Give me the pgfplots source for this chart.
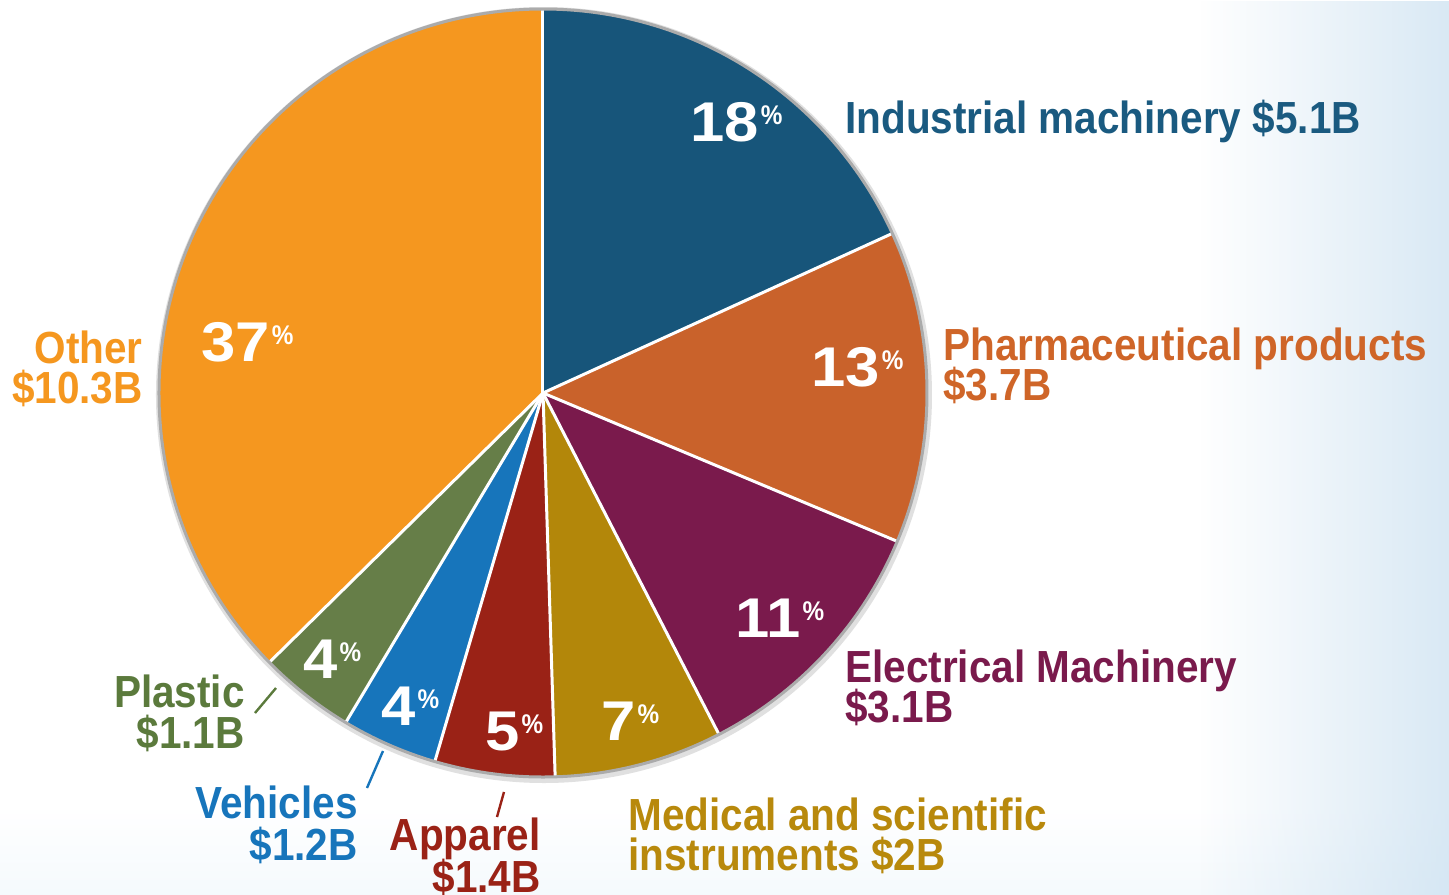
\documentclass[border=0pt]{standalone}
\usepackage{pgfplots}
\pgfplotsset{compat=1.18}
\usepackage{pgfplotstable}
\usetikzlibrary{fadings}
\usepackage{fontspec}
\setmainfont{Liberation Sans}
\newfontfamily\lblfont{Liberation Sans}[FakeStretch=0.9]
\newfontfamily\pctfont{Liberation Sans}[FakeStretch=1.1]
\newcommand\lbl{\lblfont\bfseries\fontsize{22.5bp}{24bp}\selectfont}
\newcommand\pct[1]{{\pctfont\bfseries\fontsize{28bp}{30bp}\selectfont #1}\hspace{1bp}\raisebox{8.5bp}{\lblfont\bfseries\fontsize{13.5bp}{14bp}\selectfont\%}}

\definecolor{cInd}{HTML}{17557A}
\definecolor{cPha}{HTML}{C9622B}
\definecolor{cEle}{HTML}{7A1A4C}
\definecolor{cMed}{HTML}{B3870A}
\definecolor{cApp}{HTML}{9A2216}
\definecolor{cVeh}{HTML}{1775BB}
\definecolor{cPla}{HTML}{667E48}
\definecolor{cOth}{HTML}{F5971F}
\definecolor{tInd}{HTML}{1A5A80}
\definecolor{tPha}{HTML}{CF6528}
\definecolor{tEle}{HTML}{7A1A4C}
\definecolor{tMed}{HTML}{B8890C}
\definecolor{tApp}{HTML}{9A2216}
\definecolor{tVeh}{HTML}{1775BB}
\definecolor{tPla}{HTML}{5B7A3C}
\definecolor{tOth}{HTML}{F5971F}
\definecolor{bgA}{HTML}{A5CBE4}
\definecolor{bgB}{HTML}{DCECF7}
\definecolor{bgR}{HTML}{C5DDEF}

\pgfdeclareverticalshading{bgv}{100bp}{color(0bp)=(bgA); color(13bp)=(bgB); color(30bp)=(white); color(100bp)=(white)}
\pgfdeclareradialshading{rimshade}{\pgfpointorigin}{color(0bp)=(pgftransparent!100); color(36bp)=(pgftransparent!100); color(50bp)=(pgftransparent!58)}
\pgfdeclarefading{rimfade}{\pgfuseshading{rimshade}}
\tikzfading[name=fadeR, left color=transparent!100, right color=transparent!35]

% share of each category (percent) and value ($B), clockwise from 12 o'clock
\pgfplotstableread{
pct amount
18 5.1
13 3.7
11 3.1
7 2
5 1.4
4 1.2
4 1.1
37 10.3
}\piedata

\def\total{0}%
\pgfplotsforeachungrouped \i in {0,...,7}{%
  \pgfplotstablegetelem{\i}{pct}\of\piedata
  \pgfmathsetmacro\total{\total+\pgfplotsretval}}%
\def\cumul{0}%
\pgfplotsforeachungrouped \i in {0,...,7}{%
  \pgfplotstablegetelem{\i}{pct}\of\piedata
  \pgfmathsetmacro\a{90-\cumul/\total*360}%
  \pgfmathsetmacro\cumul{\cumul+\pgfplotsretval}%
  \pgfmathsetmacro\b{90-\cumul/\total*360}%
  \expandafter\xdef\csname sa\i\endcsname{\a}%
  \expandafter\xdef\csname ea\i\endcsname{\b}}%
\newcommand\slice[2]{\fill[#2] (axis cs:543,502) -- ++(\csname sa#1\endcsname:192bp) arc[start angle=\csname sa#1\endcsname,end angle=\csname ea#1\endcsname,radius=192bp] -- cycle;}
\newcommand\sep[1]{\draw[white,line width=1.5bp] (axis cs:543,502) -- ++(\csname sa#1\endcsname:192bp);}

\begin{document}
\begin{tikzpicture}
\useasboundingbox (0,0) rectangle (724.5bp,447.5bp);
\clip (0,0) rectangle (724.5bp,447.5bp);
\begin{axis}[x=0.5bp,y=0.5bp,xmin=0,xmax=1449,ymin=0,ymax=895,
  hide axis,xtick=\empty,ytick=\empty,clip=false,enlargelimits=false,at={(0,0)},anchor=south west]
\shade[shading=bgv] (axis cs:0,0) rectangle (axis cs:1449,895);
\fill[bgR,path fading=fadeR] (axis cs:1200,0) rectangle (axis cs:1449,895);
% pie
\fill[black!12] (axis cs:544,500) circle[radius=194bp];
\slice{0}{cInd}
\slice{1}{cPha}
\slice{2}{cEle}
\slice{3}{cMed}
\slice{4}{cApp}
\slice{5}{cVeh}
\slice{6}{cPla}
\slice{7}{cOth}
\fill[black,path fading=rimfade] (axis cs:543,502) circle[radius=192bp];
\sep{0}\sep{1}\sep{2}\sep{3}\sep{4}\sep{5}\sep{6}\sep{7}
\draw[black!33,line width=1.5bp] (axis cs:543,502) circle[radius=192bp];
% percentages
\node[anchor=base west,text=white,inner sep=0pt] at (axis cs:690,754) {\pct{18}};
\node[anchor=base west,text=white,inner sep=0pt] at (axis cs:811,509) {\pct{13}};
\node[anchor=base west,text=white,inner sep=0pt] at (axis cs:735,258) {\pct{11}};
\node[anchor=base west,text=white,inner sep=0pt] at (axis cs:601,155) {\pct{7}};
\node[anchor=base west,text=white,inner sep=0pt] at (axis cs:485,145) {\pct{5}};
\node[anchor=base west,text=white,inner sep=0pt] at (axis cs:381,170) {\pct{4}};
\node[anchor=base west,text=white,inner sep=0pt] at (axis cs:303,217) {\pct{4}};
\node[anchor=base west,text=white,inner sep=0pt] at (axis cs:201,534) {\pct{37}};
% category labels
\node[anchor=base west,text=tInd,inner sep=0pt,font=\lbl] at (axis cs:845,762) {Industrial machinery \$5.1B};
\node[anchor=base west,text=tPha,inner sep=0pt,font=\lbl] at (axis cs:943,535) {Pharmaceutical products};
\node[anchor=base west,text=tPha,inner sep=0pt,font=\lbl] at (axis cs:943,495) {\$3.7B};
\node[anchor=base west,text=tEle,inner sep=0pt,font=\lbl] at (axis cs:845,213) {Electrical Machinery};
\node[anchor=base west,text=tEle,inner sep=0pt,font=\lbl] at (axis cs:845,173) {\$3.1B};
\node[anchor=base west,text=tMed,inner sep=0pt,font=\lbl] at (axis cs:628,65) {Medical and scientific};
\node[anchor=base west,text=tMed,inner sep=0pt,font=\lbl] at (axis cs:628,25) {instruments \$2B};
\node[anchor=base east,text=tApp,inner sep=0pt,font=\lbl] at (axis cs:541,45) {Apparel};
\node[anchor=base east,text=tApp,inner sep=0pt,font=\lbl] at (axis cs:541,3) {\$1.4B};
\node[anchor=base east,text=tVeh,inner sep=0pt,font=\lbl] at (axis cs:358,77) {Vehicles};
\node[anchor=base east,text=tVeh,inner sep=0pt,font=\lbl] at (axis cs:358,35) {\$1.2B};
\node[anchor=base east,text=tPla,inner sep=0pt,font=\lbl] at (axis cs:245,188) {Plastic};
\node[anchor=base east,text=tPla,inner sep=0pt,font=\lbl] at (axis cs:245,147) {\$1.1B};
\node[anchor=base east,text=tOth,inner sep=0pt,font=\lbl] at (axis cs:143,532) {Other};
\node[anchor=base east,text=tOth,inner sep=0pt,font=\lbl] at (axis cs:143,492) {\$10.3B};
% leader lines
\draw[tPla,line width=1.2bp] (axis cs:255,182) -- (axis cs:276,207);
\draw[tVeh,line width=1.2bp] (axis cs:367,107) -- (axis cs:383,144);
\draw[tApp,line width=1.2bp] (axis cs:497,78) -- (axis cs:504,103);
\end{axis}
\end{tikzpicture}
\end{document}
